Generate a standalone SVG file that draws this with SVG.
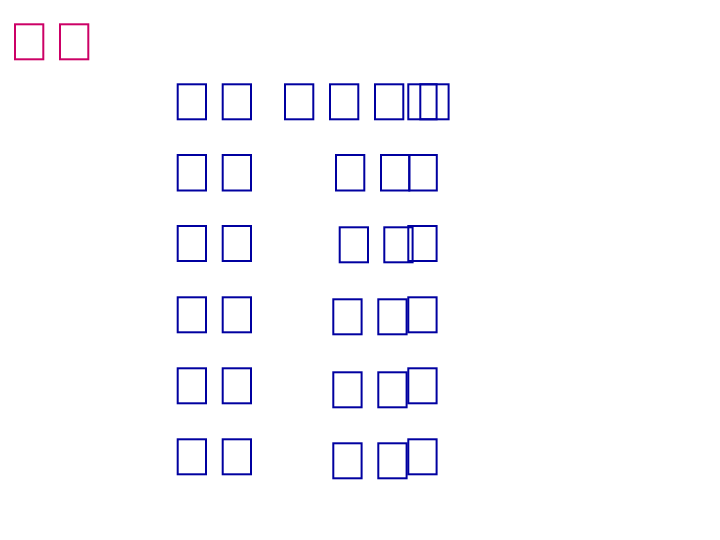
<svg xmlns="http://www.w3.org/2000/svg" width="720" height="540" viewBox="0 0 720 540">
<style>
.p{fill:none;stroke:#CC0066;stroke-width:2}
.b{fill:none;stroke:#0000A0;stroke-width:2}
</style>
<rect width="720" height="540" fill="#ffffff"/>
<g id="title">
<rect class="p" x="15" y="24.3" width="28.3" height="35"/>
<rect class="p" x="60" y="24.3" width="28.3" height="35"/>
</g>
<g id="row1">
<rect class="b" x="177.7" y="84.3" width="28.3" height="35"/>
<rect class="b" x="222.7" y="84.3" width="28.3" height="35"/>
<rect class="b" x="285" y="84.3" width="28.3" height="35"/>
<rect class="b" x="330" y="84.3" width="28.3" height="35"/>
<rect class="b" x="375" y="84.3" width="28.3" height="35"/>
<rect class="b" x="408.3" y="84.3" width="28.3" height="35"/>
<rect class="b" x="420.3" y="84.3" width="28.3" height="35"/>
</g>
<g id="row2">
<rect class="b" x="177.7" y="155" width="28.3" height="35.5"/>
<rect class="b" x="222.7" y="155" width="28.3" height="35.5"/>
<rect class="b" x="336" y="155" width="28.3" height="35.5"/>
<rect class="b" x="381" y="155" width="28.3" height="35.5"/>
<rect class="b" x="409.3" y="155" width="27.5" height="35.5"/>
</g>
<g id="row3">
<rect class="b" x="177.7" y="226" width="28.3" height="35"/>
<rect class="b" x="222.7" y="226" width="28.3" height="35"/>
<rect class="b" x="339.7" y="227.3" width="28.3" height="35"/>
<rect class="b" x="384.3" y="227.3" width="28.3" height="35"/>
<rect class="b" x="408.3" y="226" width="28.3" height="35"/>
</g>
<g id="row4">
<rect class="b" x="177.7" y="297.3" width="28.3" height="35"/>
<rect class="b" x="222.7" y="297.3" width="28.3" height="35"/>
<rect class="b" x="333.3" y="299.3" width="28.3" height="35"/>
<rect class="b" x="378.3" y="299.3" width="28.3" height="35"/>
<rect class="b" x="408.3" y="297.3" width="28.3" height="35"/>
</g>
<g id="row5">
<rect class="b" x="177.7" y="368.3" width="28.3" height="35"/>
<rect class="b" x="222.7" y="368.3" width="28.3" height="35"/>
<rect class="b" x="333.3" y="372.3" width="28.3" height="35"/>
<rect class="b" x="378.3" y="372.3" width="28.3" height="35"/>
<rect class="b" x="408.3" y="368.3" width="28.3" height="35"/>
</g>
<g id="row6">
<rect class="b" x="177.7" y="439.3" width="28.3" height="35"/>
<rect class="b" x="222.7" y="439.3" width="28.3" height="35"/>
<rect class="b" x="333.3" y="443.3" width="28.3" height="35"/>
<rect class="b" x="378.3" y="443.3" width="28.3" height="35"/>
<rect class="b" x="408.3" y="439.3" width="28.3" height="35"/>
</g>
</svg>
